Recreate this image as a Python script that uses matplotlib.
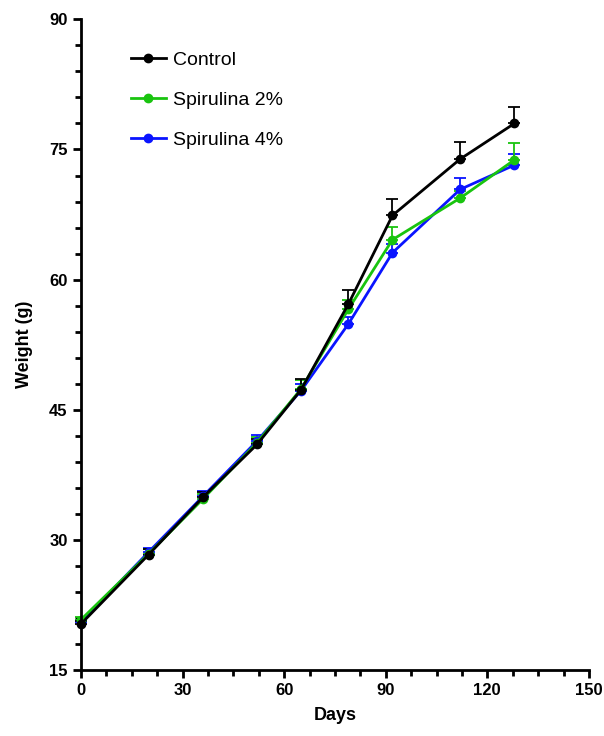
import numpy as np
import matplotlib.pyplot as plt
from matplotlib.lines import Line2D
from matplotlib.ticker import MultipleLocator

plt.rcParams['font.family'] = ['Liberation Sans', 'DejaVu Sans']

days = [0, 20, 36, 52, 65, 79, 92, 112, 128]
control = [20.3, 28.3, 34.9, 41.0, 47.3, 57.2, 67.4, 73.9, 78.0]
control_err = [0.3, 0.6, 0.6, 0.6, 1.3, 1.6, 1.9, 2.0, 1.9]
spir2 = [20.8, 28.4, 34.7, 41.2, 47.4, 56.6, 64.6, 69.4, 73.8]
spir2_err = [0.3, 0.5, 0.6, 0.6, 1.0, 1.0, 1.5, 0.8, 1.9]
spir4 = [20.5, 28.6, 35.0, 41.4, 47.2, 54.9, 63.1, 70.4, 73.2]
spir4_err = [0.3, 0.5, 0.6, 0.7, 0.8, 0.8, 1.0, 1.3, 1.3]

series = [
    ('Spirulina 4%', spir4, spir4_err, '#0a14ff'),
    ('Spirulina 2%', spir2, spir2_err, '#19c40f'),
    ('Control', control, control_err, 'black'),
]

fig = plt.figure(figsize=(6.04, 7.36), dpi=100)
ax = fig.add_axes([0.134, 0.0897, 0.841, 0.884])

handles = {}
for name, vals, err, col in series:
    vals = np.array(vals)
    err = np.array(err)
    ax.errorbar(days, vals, yerr=[np.zeros_like(err), err], color=col,
                marker='o', markersize=6, linewidth=2, elinewidth=1.3,
                capsize=4, capthick=1.3, clip_on=False)
    handles[name] = Line2D([], [], color=col, marker='o', markersize=6, linewidth=2)

order = ['Control', 'Spirulina 2%', 'Spirulina 4%']
ax.legend([handles[n] for n in order], order, loc='upper left',
          bbox_to_anchor=(0.098, 0.951), frameon=False, fontsize=14,
          borderaxespad=0, borderpad=0,
          handlelength=1.8, labelspacing=1.15, handletextpad=0.35)

ax.set_xlim(0, 150)
ax.set_ylim(15, 90)
ax.xaxis.set_major_locator(MultipleLocator(30))
ax.xaxis.set_minor_locator(MultipleLocator(7.5))
ax.yaxis.set_major_locator(MultipleLocator(15))
ax.yaxis.set_minor_locator(MultipleLocator(3))

for s in ['top', 'right']:
    ax.spines[s].set_visible(False)
for s in ['left', 'bottom']:
    ax.spines[s].set_linewidth(2)

ax.tick_params(which='major', length=6, width=2, labelsize=12, direction='out')
ax.tick_params(which='minor', length=4, width=2, direction='out')
for lab in ax.get_xticklabels() + ax.get_yticklabels():
    lab.set_fontweight('bold')

ax.set_xlabel('Days', fontsize=13, fontweight='bold', labelpad=6)
ax.set_ylabel('Weight (g)', fontsize=13, fontweight='bold', labelpad=12)

fig.savefig('out.png', dpi=100)
